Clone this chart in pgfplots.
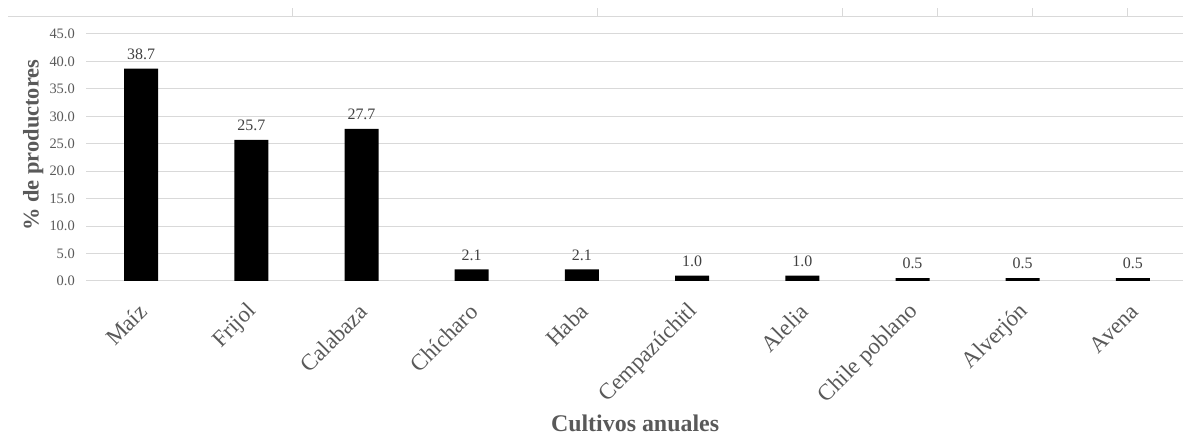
\documentclass[border=0pt]{standalone}
\usepackage{fontspec}
\setmainfont{Liberation Serif}
\usepackage{pgfplots}
\pgfplotsset{compat=1.18}
\definecolor{gridgray}{HTML}{D9D9D9}
\definecolor{txtgray}{HTML}{595959}
\definecolor{lblgray}{HTML}{404040}

\begin{document}
\begin{tikzpicture}[x=1bp,y=1bp]
\useasboundingbox (0,0) rectangle (1183,436);
% faint rule with short ticks along the top edge
\draw[gridgray, line width=1bp] (8,419) -- (1183,419);
\foreach \tx in {292,597,842,937,1032,1127}
  \draw[gridgray, line width=1bp] (\tx,419) -- (\tx,428);
\begin{axis}[
  at={(86bp,155bp)}, anchor=south west,
  scale only axis, width=1097bp, height=247bp,
  ybar, bar width=34bp,
  xmin=-0.5, xmax=9.455,
  ymin=0, ymax=45,
  ytick={0,5,...,45},
  xtick={0,...,9},
  xticklabels={Maíz,Frijol,Calabaza,Chícharo,Haba,Cempazúchitl,Alelia,Chile poblano,Alverjón,Avena},
  axis line style={draw=none},
  major tick length=0pt,
  ymajorgrids, grid style={gridgray, line width=1bp},
  /pgf/number format/.cd, fixed, fixed zerofill, precision=1, assume math mode=true,
  /pgfplots/.cd,
  yticklabel style={font=\fontsize{14.5}{14.5}\selectfont, text=txtgray, anchor=east, inner sep=0pt, xshift=-11bp},
  xticklabel style={font=\fontsize{23}{23}\selectfont, text=txtgray, inner sep=0pt, xshift=2bp, yshift=-27bp, rotate=45, anchor=east},
  nodes near coords,
  every node near coord/.append style={font=\fontsize{16}{16}\selectfont, text=lblgray, inner sep=0pt, yshift=9bp},
  ylabel={\% de productores},
  ylabel style={font=\bfseries\fontsize{22.5}{22.5}\selectfont, text=txtgray, at={(axis description cs:-0.048,0.55)}, anchor=center},
  xlabel={Cultivos anuales},
  xlabel style={font=\bfseries\fontsize{24}{24}\selectfont, text=txtgray, inner sep=0pt, at={(axis description cs:0.5005,-0.578)}, anchor=center},
]
\addplot[fill=black, draw=none] coordinates {
  (0,38.7) (1,25.7) (2,27.7) (3,2.1) (4,2.1)
  (5,1.0) (6,1.0) (7,0.5) (8,0.5) (9,0.5)
};
\end{axis}
\end{tikzpicture}
\end{document}
